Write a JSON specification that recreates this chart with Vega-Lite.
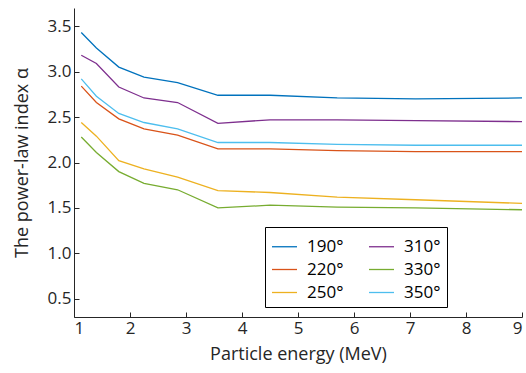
{
  "$schema": "https://vega.github.io/schema/vega-lite/v6.json",
  "autosize": "none",
  "width": 448,
  "height": 309,
  "padding": {"left": 74, "top": 8, "right": 4, "bottom": 56},
  "background": "white",
  "config": {
    "view": {"stroke": null},
    "font": "Open Sans",
    "axis": {"grid": false, "domainColor": "#262626", "tickColor": "#262626", "labelColor": "#262626", "titleColor": "#262626", "labelFontSize": 17, "titleFontSize": 18, "titleFontWeight": "normal", "tickSize": -5, "labelPadding": 8, "domainWidth": 1}
  },
  "data": {"values": [
    {"E": 1.13, "a": 3.43, "angle": "190°"}, {"E": 1.4, "a": 3.26, "angle": "190°"}, {"E": 1.8, "a": 3.05, "angle": "190°"}, {"E": 2.25, "a": 2.94, "angle": "190°"}, {"E": 2.85, "a": 2.88, "angle": "190°"}, {"E": 3.57, "a": 2.74, "angle": "190°"}, {"E": 4.5, "a": 2.74, "angle": "190°"}, {"E": 5.7, "a": 2.71, "angle": "190°"}, {"E": 7.1, "a": 2.70, "angle": "190°"}, {"E": 9.0, "a": 2.71, "angle": "190°"},
    {"E": 1.13, "a": 2.84, "angle": "220°"}, {"E": 1.4, "a": 2.66, "angle": "220°"}, {"E": 1.8, "a": 2.48, "angle": "220°"}, {"E": 2.25, "a": 2.37, "angle": "220°"}, {"E": 2.85, "a": 2.30, "angle": "220°"}, {"E": 3.57, "a": 2.15, "angle": "220°"}, {"E": 4.5, "a": 2.15, "angle": "220°"}, {"E": 5.7, "a": 2.13, "angle": "220°"}, {"E": 7.1, "a": 2.12, "angle": "220°"}, {"E": 9.0, "a": 2.12, "angle": "220°"},
    {"E": 1.13, "a": 2.44, "angle": "250°"}, {"E": 1.4, "a": 2.29, "angle": "250°"}, {"E": 1.8, "a": 2.02, "angle": "250°"}, {"E": 2.25, "a": 1.93, "angle": "250°"}, {"E": 2.85, "a": 1.84, "angle": "250°"}, {"E": 3.57, "a": 1.69, "angle": "250°"}, {"E": 4.5, "a": 1.67, "angle": "250°"}, {"E": 5.7, "a": 1.62, "angle": "250°"}, {"E": 7.1, "a": 1.59, "angle": "250°"}, {"E": 9.0, "a": 1.55, "angle": "250°"},
    {"E": 1.13, "a": 3.18, "angle": "310°"}, {"E": 1.4, "a": 3.09, "angle": "310°"}, {"E": 1.8, "a": 2.83, "angle": "310°"}, {"E": 2.25, "a": 2.71, "angle": "310°"}, {"E": 2.85, "a": 2.66, "angle": "310°"}, {"E": 3.57, "a": 2.43, "angle": "310°"}, {"E": 4.5, "a": 2.47, "angle": "310°"}, {"E": 5.7, "a": 2.47, "angle": "310°"}, {"E": 7.1, "a": 2.46, "angle": "310°"}, {"E": 9.0, "a": 2.45, "angle": "310°"},
    {"E": 1.13, "a": 2.28, "angle": "330°"}, {"E": 1.4, "a": 2.11, "angle": "330°"}, {"E": 1.8, "a": 1.90, "angle": "330°"}, {"E": 2.25, "a": 1.77, "angle": "330°"}, {"E": 2.85, "a": 1.70, "angle": "330°"}, {"E": 3.57, "a": 1.50, "angle": "330°"}, {"E": 4.5, "a": 1.53, "angle": "330°"}, {"E": 5.7, "a": 1.51, "angle": "330°"}, {"E": 7.1, "a": 1.50, "angle": "330°"}, {"E": 9.0, "a": 1.48, "angle": "330°"},
    {"E": 1.13, "a": 2.92, "angle": "350°"}, {"E": 1.4, "a": 2.73, "angle": "350°"}, {"E": 1.8, "a": 2.54, "angle": "350°"}, {"E": 2.25, "a": 2.44, "angle": "350°"}, {"E": 2.85, "a": 2.37, "angle": "350°"}, {"E": 3.57, "a": 2.22, "angle": "350°"}, {"E": 4.5, "a": 2.22, "angle": "350°"}, {"E": 5.7, "a": 2.20, "angle": "350°"}, {"E": 7.1, "a": 2.19, "angle": "350°"}, {"E": 9.0, "a": 2.19, "angle": "350°"}
  ]},
  "mark": {"type": "line", "strokeWidth": 1.3},
  "encoding": {
    "x": {"field": "E", "type": "quantitative", "scale": {"domain": [1, 9], "nice": false, "zero": false}, "axis": {"values": [1,2,3,4,5,6,7,8,9], "title": "Particle energy (MeV)", "titlePadding": 9}},
    "y": {"field": "a", "type": "quantitative", "scale": {"domain": [0.3, 3.7], "nice": false, "zero": false}, "axis": {"values": [0.5,1,1.5,2,2.5,3,3.5], "format": ".1f", "title": "The power-law index α", "titlePadding": 16}},
    "color": {"field": "angle", "type": "nominal",
      "scale": {"domain": ["190°", "310°", "220°", "330°", "250°", "350°"], "range": ["#0072BD", "#7E2F8E", "#D95319", "#77AC30", "#EDB120", "#4DBEEE"]},
      "sort": ["190°", "310°", "220°", "330°", "250°", "350°"],
      "legend": {"title": null, "orient": "none", "legendX": 191, "legendY": 219, "columns": 2, "direction": "horizontal", "columnPadding": 22, "rowPadding": 1, "symbolType": "stroke", "symbolSize": 625, "symbolStrokeWidth": 1.3, "labelFontSize": 17, "labelColor": "#000", "strokeColor": "#000", "fillColor": "white", "padding": 6, "labelOffset": 9}
    }
  }
}
